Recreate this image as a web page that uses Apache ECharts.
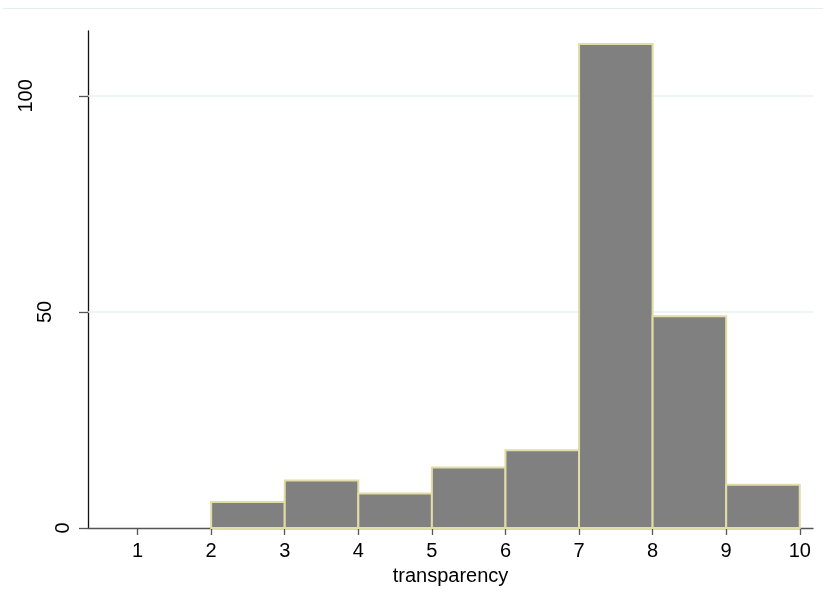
<!DOCTYPE html>
<html><head><meta charset="utf-8">
<script src="https://cdn.jsdelivr.net/npm/echarts@6/dist/echarts.min.js"></script>
<style>html,body{margin:0;padding:0;background:#fff}#c{width:823px;height:603px}</style>
</head><body><div id="c"></div>
<script>
const binStarts = [2, 3, 4, 5, 6, 7, 8, 9];
const binWidth = 1;
const counts = [6, 11, 8, 14, 18, 112, 49, 10];
const xTicks = [1, 2, 3, 4, 5, 6, 7, 8, 9, 10];
const yTicks = [0, 50, 100];
const xName = 'transparency';

const data = binStarts.map((s, i) => [s, s + binWidth, counts[i]]);
const font = 'Liberation Sans, Arial, sans-serif';
const FS = 20;
const yLabelShift = [0, 18, 37];
const rich = {};
yTicks.forEach((v, i) => {
  rich['l' + i] = {fontFamily: font, fontSize: FS, color: '#000', padding: [0, 0, yLabelShift[i], 0]};
});
const chart = echarts.init(document.getElementById('c'), null, {renderer: 'canvas'});
chart.setOption({
  animation: false,
  backgroundColor: '#fff',
  graphic: [{type: 'line', shape: {x1: 3, y1: 8.5, x2: 823, y2: 8.5}, style: {stroke: '#e6eeee', lineWidth: 1}, silent: true}],
  grid: {left: 88, right: 10, top: 31, bottom: 75, containLabel: false},
  xAxis: {
    type: 'value', min: 0.326, max: 10.18,
    name: xName, nameLocation: 'middle', nameGap: 38,
    nameTextStyle: {fontFamily: font, fontSize: FS, color: '#000'},
    axisLine: {onZero: false, lineStyle: {color: '#555', width: 1.3}},
    axisTick: {show: true, length: 7, customValues: xTicks, lineStyle: {color: '#555', width: 1.3}},
    axisLabel: {customValues: xTicks, margin: 13, fontFamily: font, fontSize: FS, color: '#000', showMinLabel: true, showMaxLabel: true},
    splitLine: {show: false}
  },
  yAxis: {
    type: 'value', min: 0, max: 115,
    axisLine: {show: true, lineStyle: {color: '#111', width: 1.3}},
    axisTick: {show: true, length: 9, customValues: yTicks, lineStyle: {color: '#555', width: 1.3}},
    axisLabel: {customValues: yTicks, rotate: 90, margin: 15, fontFamily: font, fontSize: FS, color: '#000',
      formatter: function (v) { const i = yTicks.indexOf(v); return '{l' + i + '|' + v + '}'; },
      rich: rich},
    splitLine: {show: false}
  },
  series: [{
    type: 'line', data: [], silent: true, z: 1,
    markLine: {symbol: 'none', silent: true, z: 1, label: {show: false},
      lineStyle: {color: '#eaf0f2', width: 1.5, type: 'solid'},
      data: yTicks.filter(v => v > 0).map(v => ({yAxis: v}))}
  }, {
    type: 'custom', z: 5,
    data: data,
    encode: {x: [0, 1], y: 2},
    renderItem: function (params, api) {
      const p0 = api.coord([api.value(0), 0]);
      const p1 = api.coord([api.value(1), api.value(2)]);
      return {
        type: 'rect',
        shape: {x: p0[0], y: p1[1], width: p1[0] - p0[0], height: p0[1] - p1[1]},
        style: {fill: '#808080', stroke: '#e2dca6', lineWidth: 2}
      };
    }
  }]
});
</script></body></html>
